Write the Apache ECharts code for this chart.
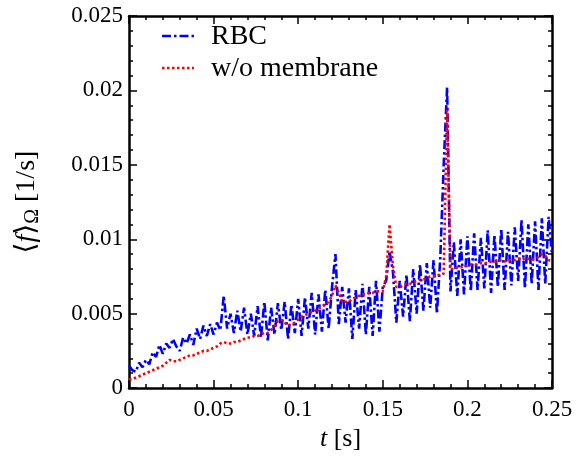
<!DOCTYPE html>
<html>
<head>
<meta charset="utf-8">
<script src="https://cdn.jsdelivr.net/npm/echarts@6/dist/echarts.min.js"></script>
<style>
html,body{margin:0;padding:0;background:#fff;}
#chart{width:578px;height:457px;}
</style>
</head>
<body>
<div id="chart"></div>
<script>
// time samples (s), step 0.002
var times = [
0.000,0.002,0.004,0.006,0.008,0.010,0.012,0.014,0.016,0.018,
0.020,0.022,0.024,0.026,0.028,0.030,0.032,0.034,0.036,0.038,
0.040,0.042,0.044,0.046,0.048,0.050,0.052,0.054,0.056,0.058,
0.060,0.062,0.064,0.066,0.068,0.070,0.072,0.074,0.076,0.078,
0.080,0.082,0.084,0.086,0.088,0.090,0.092,0.094,0.096,0.098,
0.100,0.102,0.104,0.106,0.108,0.110,0.112,0.114,0.116,0.118,
0.120,0.122,0.124,0.126,0.128,0.130,0.132,0.134,0.136,0.138,
0.140,0.142,0.144,0.146,0.148,0.150,0.152,0.154,0.156,0.158,
0.160,0.162,0.164,0.166,0.168,0.170,0.172,0.174,0.176,0.178,
0.180,0.182,0.184,0.186,0.188,0.190,0.192,0.194,0.196,0.198,
0.200,0.202,0.204,0.206,0.208,0.210,0.212,0.214,0.216,0.218,
0.220,0.222,0.224,0.226,0.228,0.230,0.232,0.234,0.236,0.238,
0.240,0.242,0.244,0.246,0.248,0.250
];
// RBC series
var rbc = [
0.0015,0.0012,0.0011,0.0017,0.0014,0.0019,0.0016,0.0024,0.0021,0.0029,
0.0023,0.0030,0.0027,0.0033,0.0028,0.0025,0.0034,0.0030,0.0036,0.0029,
0.0040,0.0033,0.0042,0.0035,0.0043,0.0036,0.0044,0.0039,0.0062,0.0040,
0.0050,0.0037,0.0052,0.0038,0.0054,0.0036,0.0050,0.0035,0.0055,0.0034,
0.0058,0.0032,0.0054,0.0036,0.0057,0.0039,0.0058,0.0033,0.0056,0.0037,
0.0060,0.0035,0.0061,0.0040,0.0064,0.0036,0.0063,0.0038,0.0066,0.0040,
0.0068,0.0090,0.0043,0.0068,0.0044,0.0067,0.0033,0.0066,0.0040,0.0070,
0.0036,0.0068,0.0035,0.0072,0.0038,0.0068,0.0072,0.0092,0.0078,0.0044,
0.0072,0.0048,0.0076,0.0045,0.0080,0.0050,0.0083,0.0052,0.0084,0.0054,
0.0086,0.0050,0.0088,0.0150,0.0202,0.0065,0.0098,0.0062,0.0100,0.0063,
0.0102,0.0065,0.0104,0.0066,0.0101,0.0067,0.0106,0.0064,0.0103,0.0068,
0.0107,0.0066,0.0105,0.0069,0.0108,0.0072,0.0113,0.0067,0.0110,0.0070,
0.0112,0.0066,0.0114,0.0070,0.0115,0.0090
];
// w/o membrane series
var noMembrane = [
0.0006,0.0006,0.0007,0.0008,0.0009,0.0010,
0.0011,0.0012,0.0013,0.0014,0.0015,
0.0017,0.0019,0.0018,0.0018,0.0019,
0.0020,0.0021,0.0022,0.0022,0.0023,
0.0024,0.0025,0.0025,0.0026,0.0027,
0.0028,0.0030,0.0031,0.0030,0.0030,
0.0031,0.0031,0.0032,0.0033,0.0034,
0.0034,0.0035,0.0035,0.0036,0.0037,
0.0037,0.0039,0.0042,0.0045,0.0046,
0.0044,0.0042,0.0043,0.0044,0.0046,
0.0048,0.0049,0.0050,0.0051,0.0052,
0.0053,0.0055,0.0056,0.0058,0.0062,
0.0069,0.0064,0.0058,0.0058,0.0058,
0.0060,0.0061,0.0062,0.0063,0.0063,
0.0064,0.0064,0.0065,0.0065,0.0065,
0.0075,0.0110,0.0082,0.0068,0.0068,
0.0069,0.0070,0.0070,0.0071,0.0072,
0.0073,0.0073,0.0074,0.0075,0.0075,
0.0076,0.0076,0.0077,0.0187,0.0080,
0.0080,0.0081,0.0081,0.0082,0.0082,
0.0083,0.0083,0.0083,0.0084,0.0084,
0.0084,0.0085,0.0085,0.0085,0.0086,
0.0085,0.0086,0.0086,0.0086,0.0087,
0.0086,0.0087,0.0087,0.0086,0.0087,
0.0088,0.0090,0.0089,0.0086,0.0085
];
var seriesNames = ['RBC', 'w/o membrane'];
var xTicks = [0, 0.05, 0.1, 0.15, 0.2, 0.25];
var yTicks = [0, 0.005, 0.01, 0.015, 0.02, 0.025];

function pairs(xs, ys){ return xs.map(function(x,i){ return [x, ys[i]]; }); }

var FONT = '"Liberation Serif", "DejaVu Serif", serif';
var BLUE_DASH = [9,3,2.5,3];
var RED_DASH = [2.5,2.5];
var chart = echarts.init(document.getElementById('chart'), null, {renderer:'canvas'});
var axisLineStyle = {color:'#000', width:2.5};
var tickStyle = {color:'#000', width:1.5};
function baseX(extra){
  return Object.assign({
    type:'value', min:xTicks[0], max:xTicks[xTicks.length-1], interval:0.05,
    axisLine:{show:true, onZero:false, lineStyle:axisLineStyle},
    axisTick:{show:true, inside:true, length:8, lineStyle:tickStyle},
    minorTick:{show:true, splitNumber:5, length:4, lineStyle:tickStyle},
    splitLine:{show:false}
  }, extra);
}
function baseY(extra){
  return Object.assign({
    type:'value', min:yTicks[0], max:yTicks[yTicks.length-1], interval:0.005,
    axisLine:{show:true, onZero:false, lineStyle:axisLineStyle},
    axisTick:{show:true, inside:true, length:8, lineStyle:tickStyle},
    minorTick:{show:true, splitNumber:5, length:4, lineStyle:tickStyle},
    splitLine:{show:false}
  }, extra);
}
chart.setOption({
  animation:false,
  backgroundColor:'#fff',
  grid:{left:129, right:26, top:16, bottom:62, containLabel:false},
  legend:{show:false},
  graphic:[
    {type:'line', shape:{x1:162, y1:36, x2:194, y2:36},
     style:{stroke:'#0000ff', lineWidth:2.6, lineDash:BLUE_DASH}},
    {type:'text', x:211, y:37, style:{text:seriesNames[0], font:'28px "Liberation Serif"', fill:'#000', textVerticalAlign:'middle', verticalAlign:'middle'}},
    {type:'line', shape:{x1:162, y1:68, x2:194, y2:68},
     style:{stroke:'#ff0000', lineWidth:2.6, lineDash:RED_DASH}},
    {type:'text', x:211, y:69, style:{text:seriesNames[1], font:'28px "Liberation Serif"', fill:'#000', textVerticalAlign:'middle', verticalAlign:'middle'}}
  ],
  xAxis:[
    baseX({position:'bottom',
      name:'{i|t} [s]', nameLocation:'middle', nameGap:33,
      nameTextStyle:{fontFamily:FONT, fontSize:26, color:'#000',
        rich:{i:{fontFamily:FONT, fontSize:26, fontStyle:'italic', color:'#000'}}},
      axisLabel:{show:true, margin:10, fontFamily:FONT, fontSize:23, color:'#000'}}),
    baseX({position:'top', axisLabel:{show:false}})
  ],
  yAxis:[
    baseY({position:'left',
      name:'⟨{i|f}⟩{s|Ω} [1/s]', nameLocation:'middle', nameGap:86, nameRotate:90,
      nameTextStyle:{fontFamily:FONT, fontSize:28, color:'#000',
        rich:{i:{fontFamily:FONT, fontSize:28, fontStyle:'italic', color:'#000'},
              s:{fontFamily:FONT, fontSize:20, color:'#000', padding:[12,0,0,0]}}},
      axisLabel:{show:true, margin:6, fontFamily:FONT, fontSize:23, color:'#000'}}),
    baseY({position:'right', axisLabel:{show:false}})
  ],
  series:[
    {name:seriesNames[0], type:'line', data:pairs(times, rbc), showSymbol:false, symbol:'none',
     lineStyle:{color:'#0000ff', width:2.6, type:BLUE_DASH}, itemStyle:{color:'#0000ff'}, z:2},
    {name:seriesNames[1], type:'line', data:pairs(times, noMembrane), showSymbol:false, symbol:'none',
     lineStyle:{color:'#ff0000', width:2.6, type:RED_DASH}, itemStyle:{color:'#ff0000'}, z:3}
  ]
});
</script>
</body>
</html>
